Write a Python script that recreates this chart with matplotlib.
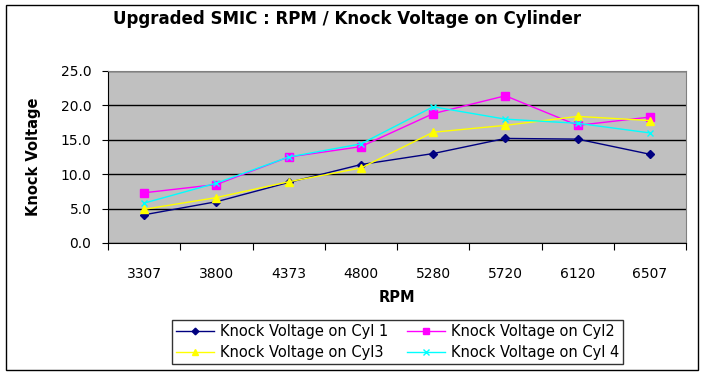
#!/usr/bin/env python
"""
Upgraded SMIC: RPM / knock voltage on each cylinder.
"""

import numpy as np
import matplotlib
matplotlib.use("Agg")
import matplotlib.pyplot as plt
from matplotlib.patches import Rectangle

W, H = 706, 376

rpm = ["3307", "3800", "4373", "4800", "5280", "5720", "6120", "6507"]
cyl1 = [4.1, 6.0, 8.8, 11.4, 13.0, 15.2, 15.1, 12.9]
cyl2 = [7.3, 8.5, 12.5, 14.0, 18.8, 21.4, 17.1, 18.3]
cyl3 = [4.9, 6.6, 8.9, 10.9, 16.1, 17.1, 18.4, 17.8]
cyl4 = [5.8, 8.7, 12.5, 14.4, 19.8, 18.0, 17.4, 16.0]

labels = ["Knock Voltage on Cyl 1", "Knock Voltage on Cyl2",
          "Knock Voltage on Cyl3", "Knock Voltage on Cyl 4"]
yticks = [0, 5, 10, 15, 20, 25]

plt.rcParams["font.family"] = ["DejaVu Sans"]


def fx(px):
    return px / W


def fy(py):
    return 1 - py / H


def main():
    fig = plt.figure(figsize=(W / 100, H / 100), dpi=100)
    ax = fig.add_axes([fx(108), fy(243), fx(686) - fx(108), fy(71) - fy(243)])
    ax.set_facecolor("#C0C0C0")

    x = np.arange(len(rpm))
    styles = [
        ("#000080", "D", 4.5, cyl1),
        ("#FF00FF", "s", 5.5, cyl2),
        ("#FFFF00", "^", 6, cyl3),
        ("#00FFFF", "x", 5, cyl4),
    ]
    handles = []
    for (color, marker, ms, vals), lab in zip(styles, labels):
        h, = ax.plot(x, vals, color=color, marker=marker, markersize=ms,
                     markeredgecolor=color, markerfacecolor=color,
                     linewidth=1, label=lab, zorder=3)
        handles.append(h)

    ax.set_xlim(-0.5, len(rpm) - 0.5)
    ax.set_ylim(0, 25)
    ax.set_yticks(yticks)
    ax.set_yticklabels([f"{v:.1f}" for v in yticks], fontsize=10)
    ax.yaxis.grid(True, color="black", linewidth=1)
    ax.set_axisbelow(True)

    ax.set_xticks(np.arange(-0.5, len(rpm), 1.0))
    ax.set_xticklabels([])
    ax.set_xticks(x, minor=True)
    ax.set_xticklabels(rpm, minor=True, fontsize=10)
    ax.tick_params(axis="x", which="major", length=5, direction="out", color="black")
    ax.tick_params(axis="x", which="minor", length=0, pad=17)
    ax.tick_params(axis="y", length=4, direction="out", pad=8)

    for side in ("top", "right"):
        ax.spines[side].set_color("#808080")
    for side in ("left", "bottom"):
        ax.spines[side].set_color("black")

    ax.set_xlabel("RPM", fontsize=10.5, fontweight="bold", labelpad=7)
    ax.set_ylabel("Knock Voltage", fontsize=10.5, fontweight="bold", labelpad=14)

    fig.text(fx(347), fy(19), "Upgraded SMIC : RPM / Knock Voltage on Cylinder",
             ha="center", va="center", fontsize=12, fontweight="bold")

    # row-wise order: Cyl1, Cyl2 / Cyl3, Cyl4
    order = [0, 2, 1, 3]
    leg = fig.legend(handles=[handles[i] for i in order],
                     labels=[labels[i] for i in order],
                     loc="center", ncol=2,
                     bbox_to_anchor=(fx((163 + 632) / 2), fy(342)),
                     frameon=True, fancybox=False, fontsize=10.5,
                     handlelength=2.6, handletextpad=0.4, columnspacing=1.3,
                     labelspacing=0.4, borderpad=0.3, borderaxespad=0,
                     markerscale=0.75)
    leg.get_frame().set_edgecolor("black")
    leg.get_frame().set_linewidth(1)

    border = Rectangle((fx(6), fy(370)), fx(698) - fx(6), fy(5) - fy(370),
                       transform=fig.transFigure, fill=False,
                       edgecolor="black", linewidth=1)
    fig.patches.append(border)

    fig.savefig("out.png", dpi=100)


if __name__ == "__main__":
    main()
